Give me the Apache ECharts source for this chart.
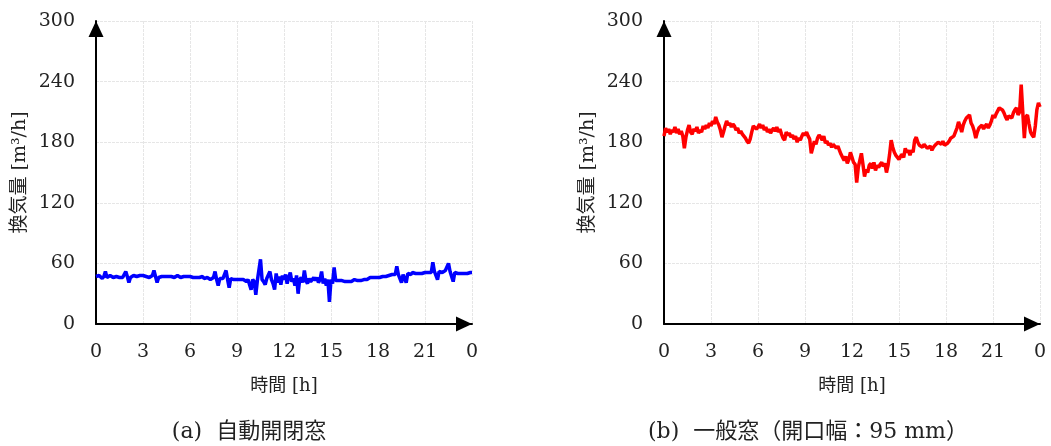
<!DOCTYPE html>
<html>
<head>
<meta charset="utf-8">
<script src="https://cdn.jsdelivr.net/npm/echarts@6/dist/echarts.min.js"></script>
<style>
  html, body { margin: 0; padding: 0; background: #fff; }
  #chart { width: 1051px; height: 446px; }
</style>
</head>
<body>
<div id="chart"></div>
<script>
// sampling step of the logged data [h]
const step = 0.1
const hourTicks = [0, 3, 6, 9, 12, 15, 18, 21, 24]

// (a) automatic window, ventilation rate [m3/h]
const autoWindow = [
  47, 46, 48, 47, 45, 47, 52, 46, 47, 48,
  47, 46, 45, 47, 48, 46, 47, 46, 47, 52,
  47, 41, 46, 47, 48, 47, 47, 46, 48, 47,
  48, 47, 47, 48, 46, 47, 48, 53, 47, 41,
  46, 47, 47, 46, 47, 48, 47, 46, 47, 47,
  46, 47, 48, 47, 46, 47, 47, 46, 47, 46,
  47, 46, 46, 47, 46, 45, 46, 46, 47, 45,
  45, 46, 45, 44, 45, 46, 52, 44, 38, 45,
  44, 45, 45, 53, 44, 36, 45, 44, 44, 45,
  44, 43, 44, 43, 44, 43, 42, 44, 43, 34,
  44, 42, 29, 43, 44, 64, 44, 42, 39, 45,
  46, 52, 44, 40, 34, 50, 41, 47, 39, 48,
  44, 49, 40, 46, 51, 42, 45, 38, 48, 30,
  44, 46, 41, 53, 43, 40, 45, 42, 44, 46,
  43, 46, 41, 44, 52, 40, 45, 38, 44, 22,
  44, 40, 56, 43, 42, 43, 42, 43, 42, 42,
  43, 42, 43, 42, 43, 44, 43, 43, 44, 43,
  44, 44, 45, 44, 45, 46, 45, 46, 47, 46,
  47, 46, 47, 47, 48, 47, 48, 48, 47, 49,
  48, 49, 57, 49, 48, 41, 49, 50, 41, 50,
  50, 49, 51, 50, 50, 51, 50, 51, 50, 51,
  51, 52, 51, 52, 51, 61, 52, 51, 44, 52,
  52, 51, 52, 53, 52, 60, 52, 51, 42, 51,
  51, 50, 51, 50, 51, 50, 51, 50, 51, 51,
  51
]

// (b) ordinary window, opening 95 mm
const normalWindow = [
  186, 194, 190, 193, 188, 192, 190, 195, 189, 193,
  188, 191, 186, 174, 185, 192, 197, 190, 188, 193,
  191, 195, 189, 192, 190, 196, 193, 197, 194, 199,
  196, 201, 198, 205, 200, 197, 192, 185, 190, 196,
  201, 197, 199, 195, 198, 196, 192, 194, 189, 191,
  188, 186, 184, 181, 179, 183, 190, 196, 197, 193,
  195, 198, 194, 197, 192, 195, 190, 193, 189, 192,
  194, 191, 195, 190, 193, 188, 184, 182, 190, 187,
  189, 185, 187, 183, 186, 180, 184, 182, 186, 189,
  187, 190, 186, 183, 169, 175, 181, 178, 184, 187,
  185, 182, 186, 179, 181, 177, 179, 175, 178, 177,
  174, 176, 172, 168, 165, 162, 166, 159, 163, 170,
  165, 160, 158, 140, 155, 162, 169, 158, 146, 153,
  150, 157, 159, 154, 160, 152, 157, 155, 158, 160,
  156, 159, 150, 157, 168, 182, 175, 170, 167, 165,
  163, 166, 168, 165, 174, 170, 172, 167, 172, 170,
  182, 185, 180, 177, 176, 175, 178, 176, 174, 175,
  176, 172, 175, 177, 176, 180, 179, 178, 181, 177,
  177, 179, 181, 184, 183, 186, 190, 194, 200, 196,
  190, 197, 201, 204, 205, 207, 199, 196, 191, 184,
  190, 194, 195, 197, 193, 196, 198, 194, 197, 201,
  207, 204, 208, 211, 214, 215, 212, 209, 205, 202,
  206, 207, 204, 209, 212, 214, 207, 210, 237, 210,
  184, 205, 207, 198, 190, 187, 185, 196, 212, 219,
  215
]

const captions = ['(a)  自動開閉窓', '(b)  一般窓（開口幅：95 mm）']
const xName = '時間 [h]'
const yName = '換気量 [m³/h]'

const font = "'DejaVu Serif', 'Noto Sans CJK JP', serif"

function toPairs (vals) {
  return vals.map((v, i) => [Math.round(i * step * 10) / 10, v])
}

function xAxisFor (gridIndex) {
  return {
    type: 'value',
    gridIndex,
    min: 0,
    max: 24,
    interval: 3,
    name: xName,
    nameLocation: 'middle',
    nameGap: 53,
    nameTextStyle: { fontFamily: font, fontSize: 18, color: '#222' },
    axisLine: {
      show: true,
      onZero: false,
      symbol: ['none', 'triangle'],
      symbolSize: [15, 16],
      symbolOffset: [0, -8],
      lineStyle: { color: '#000', width: 2 }
    },
    axisTick: { show: false },
    axisLabel: {
      margin: 19,
      fontFamily: font,
      fontSize: 19,
      color: '#222',
      formatter: v => (v === 24 ? '0' : String(v))
    },
    splitLine: { show: true, lineStyle: { color: '#e6e6e6', width: 1, type: [3, 1] } }
  }
}

function yAxisFor (gridIndex) {
  return {
    type: 'value',
    gridIndex,
    min: 0,
    max: 300,
    interval: 60,
    name: yName,
    nameLocation: 'middle',
    nameGap: 66,
    nameTextStyle: { fontFamily: font, fontSize: 19, color: '#222' },
    axisLine: {
      show: true,
      symbol: ['none', 'triangle'],
      symbolSize: [15, 16],
      symbolOffset: [0, -8],
      lineStyle: { color: '#000', width: 2 }
    },
    axisTick: { show: false },
    axisLabel: { margin: 21, fontFamily: font, fontSize: 19, color: '#222' },
    splitLine: { show: true, lineStyle: { color: '#e6e6e6', width: 1, type: [3, 1] } }
  }
}

const chart = echarts.init(document.getElementById('chart'), null, { renderer: 'canvas' })

chart.setOption({
  animation: false,
  backgroundColor: '#fff',
  grid: [
    { left: 96, top: 21, width: 376, height: 303, containLabel: false, outerBoundsMode: 'none' },
    { left: 664, top: 21, width: 376, height: 303, containLabel: false, outerBoundsMode: 'none' }
  ],
  xAxis: [xAxisFor(0), xAxisFor(1)],
  yAxis: [yAxisFor(0), yAxisFor(1)],
  series: [
    {
      name: captions[0],
      type: 'line',
      xAxisIndex: 0,
      yAxisIndex: 0,
      showSymbol: false,
      lineStyle: { color: '#0000ff', width: 3.5 },
      data: toPairs(autoWindow)
    },
    {
      name: captions[1],
      type: 'line',
      xAxisIndex: 1,
      yAxisIndex: 1,
      showSymbol: false,
      lineStyle: { color: '#ff0000', width: 3.5 },
      data: toPairs(normalWindow)
    }
  ],
  graphic: [
    {
      type: 'text',
      x: 249,
      y: 432,
      style: { text: captions[0], font: '22px ' + font, fill: '#222', textAlign: 'center', textVerticalAlign: 'middle' }
    },
    {
      type: 'text',
      x: 808,
      y: 432,
      style: { text: captions[1], font: '22px ' + font, fill: '#222', textAlign: 'center', textVerticalAlign: 'middle' }
    }
  ]
})
</script>
</body>
</html>
